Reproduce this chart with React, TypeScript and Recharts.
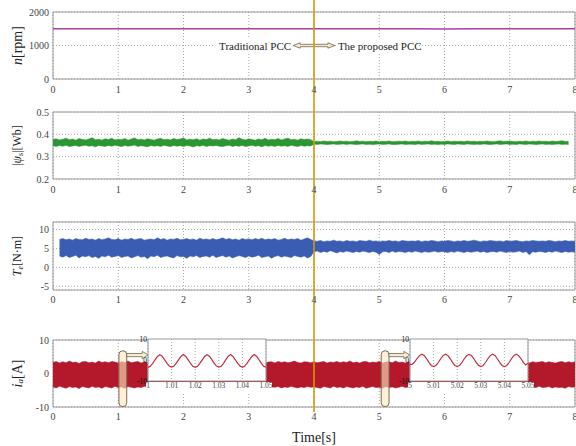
import React from "react";
import {
  ComposedChart,
  LineChart,
  Line,
  Area,
  XAxis,
  YAxis,
  CartesianGrid,
  ReferenceLine,
  ReferenceArea,
} from "recharts";

// time axis
const timeTicks = [0, 1, 2, 3, 4, 5, 6, 7, 8];
const SAMPLE_STEP = 0.05;
const SPEED_STEP = 0.5;
const SWITCH_TIME = 4;

// speed n [rpm], every 0.5 s
const speed = [1500, 1500, 1502, 1500, 1499, 1500, 1501, 1500, 1500, 1500, 1500, 1498, 1493, 1500, 1501, 1500, 1500];

// flux |psi_s| band edges [Wb], every 0.05 s (one row = 0.5 s)
const fluxHi = [
  0.377, 0.38, 0.375, 0.378, 0.383, 0.376, 0.379, 0.374, 0.381, 0.377,
  0.375, 0.379, 0.385, 0.376, 0.378, 0.374, 0.38, 0.377, 0.382, 0.375,
  0.378, 0.376, 0.381, 0.374, 0.379, 0.384, 0.376, 0.378, 0.375, 0.38,
  0.377, 0.374, 0.379, 0.382, 0.376, 0.378, 0.375, 0.381, 0.377, 0.379,
  0.384, 0.375, 0.378, 0.376, 0.38, 0.374, 0.379, 0.377, 0.383, 0.376,
  0.378, 0.375, 0.381, 0.377, 0.374, 0.379, 0.376, 0.385, 0.378, 0.375,
  0.38, 0.377, 0.374, 0.379, 0.376, 0.382, 0.375, 0.378, 0.376, 0.381,
  0.375, 0.379, 0.383, 0.376, 0.378, 0.374, 0.38, 0.377, 0.379, 0.376,
  0.368, 0.369, 0.367, 0.37, 0.368, 0.369, 0.367, 0.368, 0.37, 0.368,
  0.369, 0.367, 0.368, 0.371, 0.368, 0.369, 0.367, 0.369, 0.368, 0.37,
  0.367, 0.369, 0.368, 0.37, 0.367, 0.368, 0.369, 0.368, 0.37, 0.367,
  0.369, 0.368, 0.37, 0.367, 0.369, 0.368, 0.371, 0.368, 0.369, 0.367,
  0.368, 0.37, 0.367, 0.369, 0.368, 0.369, 0.367, 0.37, 0.368, 0.369,
  0.367, 0.369, 0.368, 0.37, 0.368, 0.367, 0.369, 0.371, 0.368, 0.369,
  0.37, 0.368, 0.367, 0.369, 0.368, 0.37, 0.367, 0.369, 0.368, 0.37,
  0.368, 0.369, 0.367, 0.37, 0.368, 0.369, 0.371, 0.368, 0.369, null,
  null,
];
const fluxLo = [
  0.349, 0.346, 0.35, 0.347, 0.351, 0.345, 0.348, 0.35, 0.346, 0.349,
  0.351, 0.347, 0.349, 0.344, 0.35, 0.348, 0.346, 0.35, 0.347, 0.351,
  0.348, 0.345, 0.35, 0.347, 0.349, 0.352, 0.346, 0.349, 0.347, 0.344,
  0.35, 0.347, 0.349, 0.346, 0.351, 0.348, 0.345, 0.35, 0.347, 0.349,
  0.346, 0.35, 0.348, 0.343, 0.349, 0.347, 0.351, 0.346, 0.349, 0.348,
  0.35, 0.347, 0.345, 0.349, 0.351, 0.346, 0.349, 0.347, 0.35, 0.346,
  0.348, 0.351, 0.347, 0.349, 0.344, 0.35, 0.347, 0.349, 0.346, 0.35,
  0.347, 0.349, 0.346, 0.351, 0.348, 0.345, 0.35, 0.347, 0.349, 0.348,
  0.356, 0.355, 0.357, 0.356, 0.354, 0.356, 0.357, 0.355, 0.356, 0.357,
  0.355, 0.357, 0.356, 0.354, 0.356, 0.357, 0.355, 0.356, 0.354, 0.356,
  0.357, 0.355, 0.356, 0.357, 0.355, 0.354, 0.356, 0.357, 0.355, 0.356,
  0.356, 0.354, 0.357, 0.355, 0.356, 0.357, 0.355, 0.356, 0.354, 0.356,
  0.355, 0.357, 0.356, 0.354, 0.357, 0.356, 0.355, 0.357, 0.356, 0.355,
  0.356, 0.355, 0.357, 0.356, 0.354, 0.356, 0.357, 0.355, 0.356, 0.357,
  0.355, 0.356, 0.354, 0.357, 0.356, 0.355, 0.357, 0.356, 0.354, 0.356,
  0.357, 0.355, 0.356, 0.354, 0.356, 0.357, 0.355, 0.356, 0.355, null,
  null,
];

// torque Te band edges [N·m]
const torqueHi = [
  null, null, 7.4, 7.6, 7.3, 7.5, 7.2, 7.6, 7.4, 7.3,
  7.7, 7.4, 7.5, 7.2, 7.6, 7.3, 7.5, 7.8, 7.4, 7.3,
  7.6, 7.2, 7.5, 7.4, 7.7, 7.3, 7.5, 7.6, 7.2, 7.4,
  7.5, 7.3, 7.8, 7.4, 7.6, 7.2, 7.5, 7.4, 7.7, 7.3,
  7.4, 7.6, 7.3, 7.5, 7.2, 7.7, 7.4, 7.5, 7.3, 7.6,
  7.3, 7.5, 7.8, 7.4, 7.6, 7.3, 7.5, 7.2, 7.6, 7.4,
  7.5, 7.3, 7.6, 7.4, 7.7, 7.3, 7.5, 7.4, 7.6, 7.2,
  7.4, 7.7, 7.3, 7.5, 7.4, 7.6, 7.2, 7.5, 7.8, 7.4,
  7.0, 6.9, 7.1, 6.8, 7.0, 6.9, 7.2, 6.9, 7.0, 6.8,
  7.1, 6.9, 7.0, 6.8, 7.1, 7.0, 6.9, 7.2, 6.9, 7.0,
  6.8, 7.0, 6.9, 7.1, 6.9, 7.0, 6.8, 7.1, 7.0, 6.9,
  7.0, 6.9, 7.1, 6.8, 7.0, 6.9, 7.1, 7.0, 6.8, 7.0,
  6.9, 7.1, 7.0, 6.8, 7.0, 6.9, 7.1, 6.9, 7.0, 7.2,
  7.0, 6.8, 7.0, 6.9, 7.1, 7.0, 6.9, 7.0, 6.8, 7.1,
  6.9, 7.0, 7.1, 6.9, 6.8, 7.0, 6.9, 7.1, 7.0, 6.9,
  7.0, 6.9, 7.1, 7.0, 6.8, 7.0, 6.9, 7.1, 6.9, 7.0,
  6.9,
];
const torqueLo = [
  null, null, 3.0, 2.7, 3.1, 2.6, 2.9, 3.2, 2.5, 3.0,
  2.8, 3.1, 2.6, 2.9, 2.4, 3.0, 2.8, 3.2, 2.7, 2.9,
  3.1, 2.6, 2.9, 3.0, 2.5, 2.8, 3.1, 2.7, 2.9, 2.3,
  3.0, 2.8, 3.2, 2.6, 2.9, 3.0, 2.7, 2.5, 3.1, 2.8,
  2.9, 2.4, 3.0, 2.8, 3.1, 2.6, 2.9, 3.0, 2.7, 3.2,
  2.6, 2.9, 3.1, 2.7, 3.0, 2.5, 2.8, 3.1, 2.9, 2.6,
  3.0, 2.7, 2.9, 3.2, 2.6, 2.8, 3.0, 2.4, 2.9, 3.1,
  2.7, 3.0, 2.8, 2.6, 3.1, 2.9, 2.7, 3.0, 2.5, 2.9,
  4.1, 4.3, 3.9, 4.2, 4.0, 4.4, 4.1, 3.8, 4.2, 4.0,
  4.3, 4.1, 3.9, 4.2, 4.0, 4.3, 4.1, 3.9, 4.2, 4.0,
  3.4, 4.1, 4.2, 3.9, 4.3, 4.0, 4.2, 4.1, 3.9, 4.2,
  4.0, 4.3, 4.1, 3.9, 4.2, 4.0, 4.1, 4.3, 4.0, 4.2,
  4.1, 3.9, 4.2, 4.0, 4.3, 4.1, 3.9, 4.2, 4.0, 4.1,
  4.3, 4.0, 4.2, 3.9, 4.1, 4.2, 4.0, 4.3, 4.1, 3.9,
  4.2, 4.0, 4.1, 4.3, 3.9, 4.2, 3.3, 4.1, 4.0, 4.2,
  4.1, 3.9, 4.2, 4.0, 4.3, 4.1, 3.9, 4.2, 4.0, 4.1,
  4.0,
];

// phase current ia band edges [A]
const currentHi = [
  3.3, 3.6, 3.1, 3.5, 3.2, 3.7, 3.3, 3.4, 3.0, 3.5,
  3.6, 3.2, 3.4, 3.1, 3.7, 3.3, 3.5, 3.2, 3.6, 3.4,
  3.1, 3.5, 3.3, 3.7, 3.2, 3.4, 3.6, 3.1, 3.5, 3.3,
  3.4, 3.2, 3.6, 3.3, 3.5, 3.1, 3.4, 3.7, 3.2, 3.5,
  3.3, 3.6, 3.2, 3.4, 3.1, 3.5, 3.3, 3.6, 3.2, 3.4,
  3.5, 3.2, 3.6, 3.3, 3.1, 3.5, 3.4, 3.2, 3.7, 3.3,
  3.4, 3.1, 3.5, 3.3, 3.6, 3.2, 3.4, 3.5, 3.1, 3.6,
  3.3, 3.5, 3.2, 3.4, 3.7, 3.3, 3.1, 3.5, 3.4, 3.2,
  3.5, 3.2, 3.4, 3.6, 3.1, 3.4, 3.3, 3.6, 3.2, 3.5,
  3.3, 3.7, 3.2, 3.4, 3.1, 3.5, 3.6, 3.2, 3.4, 3.3,
  3.6, 3.1, 3.4, 3.5, 3.2, 3.7, 3.3, 3.4, 3.1, 3.5,
  3.2, 3.4, 3.6, 3.3, 3.5, 3.1, 3.4, 3.6, 3.2, 3.5,
  3.4, 3.3, 3.1, 3.6, 3.4, 3.2, 3.5, 3.3, 3.7, 3.2,
  3.5, 3.2, 3.4, 3.1, 3.6, 3.3, 3.5, 3.2, 3.4, 3.6,
  3.1, 3.5, 3.3, 3.4, 3.2, 3.6, 3.1, 3.5, 3.3, 3.4,
  3.6, 3.2, 3.5, 3.3, 3.1, 3.4, 3.6, 3.2, 3.5, 3.3,
  3.4,
];
const currentLo = [
  -4.0, -4.3, -3.8, -4.1, -4.4, -3.9, -4.2, -4.0, -4.5, -3.9,
  -4.1, -4.3, -3.8, -4.2, -4.0, -4.4, -3.9, -4.1, -4.3, -3.8,
  -4.2, -4.0, -4.4, -3.9, -4.1, -4.3, -4.0, -4.2, -3.8, -4.1,
  -4.3, -3.9, -4.1, -4.2, -4.0, -4.4, -3.9, -4.1, -4.3, -4.0,
  -4.1, -4.3, -3.9, -4.2, -4.0, -4.4, -4.1, -3.8, -4.2, -4.0,
  -4.3, -3.9, -4.1, -4.2, -4.0, -4.4, -3.9, -4.2, -4.1, -3.8,
  -4.2, -4.0, -4.3, -4.1, -3.9, -4.2, -4.4, -4.0, -4.1, -3.9,
  -4.3, -4.0, -4.2, -3.8, -4.1, -4.3, -4.0, -4.2, -3.9, -4.1,
  -4.0, -4.2, -4.4, -3.9, -4.1, -4.3, -3.8, -4.2, -4.0, -4.3,
  -3.9, -4.1, -4.3, -4.0, -4.2, -3.8, -4.4, -4.1, -3.9, -4.2,
  -4.1, -4.4, -3.9, -4.2, -4.0, -4.3, -4.1, -3.8, -4.2, -4.0,
  -4.3, -4.0, -4.1, -4.4, -3.9, -4.2, -4.0, -4.3, -3.9, -4.1,
  -4.2, -3.9, -4.3, -4.1, -4.0, -4.4, -3.8, -4.1, -4.2, -4.0,
  -4.0, -4.3, -4.1, -3.9, -4.2, -4.0, -4.4, -4.1, -3.9, -4.3,
  -4.1, -4.0, -4.2, -4.4, -3.9, -4.1, -4.3, -4.0, -4.2, -3.8,
  -4.2, -4.1, -3.9, -4.3, -4.0, -4.2, -4.1, -4.4, -3.9, -4.1,
  -4.0,
];

// zoomed current windows, every 1 ms
const ZOOM_STEP = 0.001;
const zoomStart1 = 1;
const zoomStart2 = 5;
const zoomTicks1 = [1, 1.01, 1.02, 1.03, 1.04, 1.05];
const zoomTicks2 = [5, 5.01, 5.02, 5.03, 5.04, 5.05];
const zoomWave1 = [
  -3.5, -3.0, -1.6, 0.1, 1.7, 2.5, 1.8, 0.2, -1.5, -2.9,
  -3.4, -2.9, -1.5, 0.2, 1.8, 2.6, 1.7, 0.1, -1.6, -3.0,
  -3.5, -3.0, -1.5, 0.1, 1.7, 2.5, 1.8, 0.3, -1.5, -2.9,
  -3.4, -3.0, -1.6, 0.2, 1.8, 2.6, 1.7, 0.1, -1.6, -2.9,
  -3.5, -2.9, -1.5, 0.2, 1.7, 2.6, 1.8, 0.2, -1.5, -3.0,
  -3.4,
];
const zoomWave2 = [
  -2.2, -2.0, -0.9, 0.7, 2.1, 2.8, 2.2, 0.7, -1.1, -2.6,
  -3.1, -2.6, -1.2, 0.6, 2.1, 2.8, 2.2, 0.7, -1.1, -2.6,
  -3.0, -2.6, -1.2, 0.6, 2.0, 2.7, 2.2, 0.7, -1.1, -2.5,
  -3.1, -2.6, -1.2, 0.6, 2.1, 2.8, 2.2, 0.6, -1.1, -2.6,
  -3.1, -2.6, -1.2, 0.6, 2.1, 2.8, 2.1, 0.7, -1.0, -2.4,
  -1.6,
];

const SERIF = "'Liberation Serif', 'Times New Roman', serif";
const ORANGE = "#d49b00";
const BORDER = "#9a9a9a";
const GRID = "#a8a8a8";
const PILL_FILL = "rgba(250, 232, 192, 0.62)";
const PILL_STROKE = "#7b6a4c";

const tickStyle = { fontFamily: SERIF, fontSize: 10, fill: "#444" };

const speedData = speed.map((v, i) => ({ t: i * SPEED_STEP, v }));
const band = (lo: (number | null)[], hi: (number | null)[]) =>
  lo.map((l, i) => ({
    t: +(i * SAMPLE_STEP).toFixed(2),
    r: l == null || hi[i] == null ? null : [l, hi[i]],
  }));
const fluxData = band(fluxLo, fluxHi);
const torqueData = band(torqueLo, torqueHi);
const currentData = band(currentLo, currentHi);
const zoom = (start: number, vals: number[]) =>
  vals.map((v, i) => ({ t: +(start + i * ZOOM_STEP).toFixed(3), v }));
const zoomData1 = zoom(zoomStart1, zoomWave1);
const zoomData2 = zoom(zoomStart2, zoomWave2);

// orange switching line, stretched over the gaps between panels
const switchLine = (top: number, bottom: number) => (p: any) => {
  const x = p.x1 ?? p.x;
  return <line x1={x} x2={x} y1={top} y2={bottom} stroke={ORANGE} strokeWidth={1.6} />;
};

const yTitle = (parts: React.ReactNode, size: number) => (p: any) => {
  const vb = p.viewBox || {};
  const cx = 17;
  const cy = vb.y + vb.height / 2;
  return (
    <text
      x={cx}
      y={cy}
      transform={`rotate(-90 ${cx} ${cy})`}
      textAnchor="middle"
      dominantBaseline="central"
      fontFamily={SERIF}
      fontSize={size}
      fill="#222"
    >
      {parts}
    </text>
  );
};

const pill = (p: any) => (
  <rect
    x={p.x}
    y={p.y}
    width={p.width}
    height={p.height}
    rx={p.width / 2}
    fill={PILL_FILL}
    stroke={PILL_STROKE}
    strokeWidth={1}
  />
);

const hollowArrow = (p: any) => {
  const { x, y, width: w, height: h } = p;
  const cy = y + h / 2;
  const sh = 1.6;
  const hh = h / 2;
  const hl = 6;
  const pts = [
    [x, cy - sh], [x + w - hl, cy - sh], [x + w - hl, cy - hh], [x + w, cy],
    [x + w - hl, cy + hh], [x + w - hl, cy + sh], [x, cy + sh],
  ].map((q) => q.join(",")).join(" ");
  return <polygon points={pts} fill="#f6ecd0" stroke="#6d6552" strokeWidth={0.8} />;
};

// double arrow with the two method names beside it
const methodNote = (p: any) => {
  const { x, y, width: w, height: h } = p;
  const cy = y + h / 2;
  const sh = 1.2;
  const hh = h / 2;
  const hl = 7;
  const pts = [
    [x, cy], [x + hl, cy - hh], [x + hl, cy - sh], [x + w - hl, cy - sh], [x + w - hl, cy - hh],
    [x + w, cy], [x + w - hl, cy + hh], [x + w - hl, cy + sh], [x + hl, cy + sh], [x + hl, cy + hh],
  ].map((q) => q.join(",")).join(" ");
  return (
    <g>
      <rect x={x - 80} y={cy - 7} width={78} height={14} fill="#fff" />
      <rect x={x + w + 2} y={cy - 7} width={82} height={14} fill="#fff" />
      <text x={x - 2} y={cy} textAnchor="end" dominantBaseline="central" fontFamily={SERIF} fontSize={11} fill="#222">
        Traditional PCC
      </text>
      <text x={x + w + 3} y={cy} textAnchor="start" dominantBaseline="central" fontFamily={SERIF} fontSize={11} fill="#222">
        The proposed PCC
      </text>
      <polygon points={pts} fill="#f6ecd0" stroke="#6d6552" strokeWidth={0.8} />
    </g>
  );
};

// x-axis title of the bottom panel, 30px below the tick labels
const timeTitle = (p: any) => {
  const vb = p.viewBox || {};
  return (
    <text x={vb.x + vb.width / 2} y={vb.y + 30} textAnchor="middle" dominantBaseline="central" fontFamily={SERIF} fontSize={14} fill="#222">
      Time[s]
    </text>
  );
};

const xAxisProps = {
  dataKey: "t",
  type: "number" as const,
  domain: [0, 8],
  ticks: timeTicks,
  interval: 0 as const,
  tickLine: false,
  axisLine: false,
  tickSize: 0,
  tick: tickStyle,
  allowDataOverflow: true,
};

const yAxisProps = {
  width: 45,
  tickLine: false,
  axisLine: false,
  tickSize: 0,
  tickMargin: 4,
  tick: tickStyle,
  interval: 0 as const,
  allowDataOverflow: true,
};

const panelMargin = (top: number, bottom: number) => ({ top, right: 1, bottom, left: 8 });

const fmtZoom = (v: number) => String(+v.toFixed(2));

const zoomTick = { fontFamily: SERIF, fontSize: 7.5, fill: "#111" };

function ZoomBox({ left, data, ticks, start }: { left: number; data: any[]; ticks: number[]; start: number }) {
  return (
    <>
      {/* white strip behind the zoom tick labels */}
      <div style={{ position: "absolute", left: left + 18, top: 382, width: 126, height: 11, background: "#fff" }} />
      <div style={{ position: "absolute", left, top: 335 }}>
        <LineChart width={148} height={58} data={data} margin={{ top: 4, right: 10, bottom: 0, left: 0 }}>
          <CartesianGrid horizontal={false} strokeDasharray="1 2" stroke={GRID} fill="#fff" />
          <XAxis
            dataKey="t"
            type="number"
            domain={[start, start + 0.05]}
            ticks={ticks}
            interval={0}
            tickFormatter={fmtZoom}
            tickLine={false}
            axisLine={false}
            tickSize={0}
            tickMargin={2}
            height={12}
            tick={{ ...zoomTick, fill: "#444" }}
          />
          <YAxis
            domain={[-10, 10]}
            ticks={[-10, 0, 10]}
            interval={0}
            width={20}
            tickLine={false}
            axisLine={false}
            tickSize={0}
            tickMargin={1}
            tick={zoomTick}
          />
          <ReferenceArea x1={start} x2={start + 0.05} y1={-10} y2={10} fill="none" stroke={BORDER} strokeWidth={1} />
          <Line type="linear" dataKey="v" stroke="#c02f40" strokeWidth={1.2} dot={false} isAnimationActive={false} />
        </LineChart>
      </div>
    </>
  );
}

const bandProps = {
  type: "linear" as const,
  dataKey: "r",
  strokeWidth: 1,
  strokeOpacity: 0.55,
  fillOpacity: 1,
  dot: false,
  activeDot: false,
  isAnimationActive: false,
};

export default function App() {
  return (
    <div style={{ position: "absolute", left: 0, top: 0, width: 576, height: 446, background: "#fff", overflow: "hidden" }}>
      {/* speed */}
      <div style={{ position: "absolute", left: 0, top: 0 }}>
        <ComposedChart width={576} height={100} data={speedData} margin={panelMargin(12, 0)}>
          <CartesianGrid strokeDasharray="1 2" stroke={GRID} />
          <XAxis {...xAxisProps} height={21} tickMargin={7} />
          <YAxis
            {...yAxisProps}
            domain={[0, 2000]}
            ticks={[0, 1000, 2000]}
            label={{ content: yTitle(<><tspan fontStyle="italic">n</tspan>[rpm]</>, 14) }}
          />
          <ReferenceArea x1={0} x2={8} y1={0} y2={2000} fill="none" stroke={BORDER} strokeWidth={1} />
          <Line type="linear" dataKey="v" stroke="#a63ea8" strokeWidth={1.5} dot={false} isAnimationActive={false} />
          <ReferenceArea x1={3.68} x2={4.32} y1={920} y2={1080} shape={methodNote} />
          <ReferenceLine x={SWITCH_TIME} shape={switchLine(0, 100)} />
        </ComposedChart>
      </div>

      {/* stator flux */}
      <div style={{ position: "absolute", left: 0, top: 100 }}>
        <ComposedChart width={576} height={115} data={fluxData} margin={panelMargin(12, 16)}>
          <CartesianGrid strokeDasharray="1 2" stroke={GRID} />
          <XAxis {...xAxisProps} height={20} tickMargin={6.5} />
          <YAxis
            {...yAxisProps}
            domain={[0.2, 0.5]}
            ticks={[0.2, 0.3, 0.4, 0.5]}
            label={{
              content: yTitle(
                <>|<tspan fontStyle="italic">ψ</tspan><tspan fontSize={8} dy={3}>s</tspan><tspan dy={-3}>|[Wb]</tspan></>,
                12
              ),
            }}
          />
          <ReferenceArea x1={0} x2={8} y1={0.2} y2={0.5} fill="none" stroke={BORDER} strokeWidth={1} />
          <Area {...bandProps} stroke="#2b9632" fill="#2b9632" />
          <ReferenceLine x={SWITCH_TIME} shape={switchLine(0, 115)} />
        </ComposedChart>
      </div>

      {/* torque */}
      <div style={{ position: "absolute", left: 0, top: 215 }}>
        <ComposedChart width={576} height={115} data={torqueData} margin={panelMargin(7, 20)}>
          <CartesianGrid strokeDasharray="1 2" stroke={GRID} />
          <XAxis {...xAxisProps} height={20} tickMargin={5.5} />
          <YAxis
            {...yAxisProps}
            domain={[-6, 12]}
            ticks={[-5, 0, 5, 10]}
            label={{
              content: yTitle(
                <><tspan fontStyle="italic">T</tspan><tspan fontStyle="italic" fontSize={8} dy={3}>e</tspan><tspan dy={-3}>[N·m]</tspan></>,
                12
              ),
            }}
          />
          <ReferenceArea x1={0} x2={8} y1={-6} y2={12} fill="none" stroke={BORDER} strokeWidth={1} />
          <Area {...bandProps} stroke="#3a5db3" fill="#3a5db3" />
          <ReferenceLine x={SWITCH_TIME} shape={switchLine(0, 115)} />
        </ComposedChart>
      </div>

      {/* phase current */}
      <div style={{ position: "absolute", left: 0, top: 330 }}>
        <ComposedChart width={576} height={116} data={currentData} margin={panelMargin(10, 0)}>
          <CartesianGrid strokeDasharray="1 2" stroke={GRID} />
          <XAxis {...xAxisProps} height={39} tickMargin={6} label={{ content: timeTitle }} />
          <YAxis
            {...yAxisProps}
            domain={[-10, 10]}
            ticks={[-10, 0, 10]}
            label={{
              content: yTitle(
                <><tspan fontStyle="italic">i</tspan><tspan fontStyle="italic" fontSize={9} dy={3}>a</tspan><tspan dy={-3}>[A]</tspan></>,
                14
              ),
            }}
          />
          <ReferenceArea x1={0} x2={8} y1={-10} y2={10} fill="none" stroke={BORDER} strokeWidth={1} />
          <Area {...bandProps} stroke="#b3182b" fill="#b3182b" />
          <ReferenceArea x1={1.01} x2={1.13} y1={-9.9} y2={6.8} shape={pill} />
          <ReferenceArea x1={1.13} x2={1.46} y1={4.4} y2={6.6} shape={hollowArrow} />
          <ReferenceArea x1={5.03} x2={5.15} y1={-9.9} y2={6.8} shape={pill} />
          <ReferenceArea x1={5.15} x2={5.47} y1={4.4} y2={6.6} shape={hollowArrow} />
          <ReferenceLine x={SWITCH_TIME} shape={switchLine(0, 82)} />
        </ComposedChart>
      </div>

      <ZoomBox left={128} data={zoomData1} ticks={zoomTicks1} start={zoomStart1} />
      <ZoomBox left={390} data={zoomData2} ticks={zoomTicks2} start={zoomStart2} />
    </div>
  );
}
